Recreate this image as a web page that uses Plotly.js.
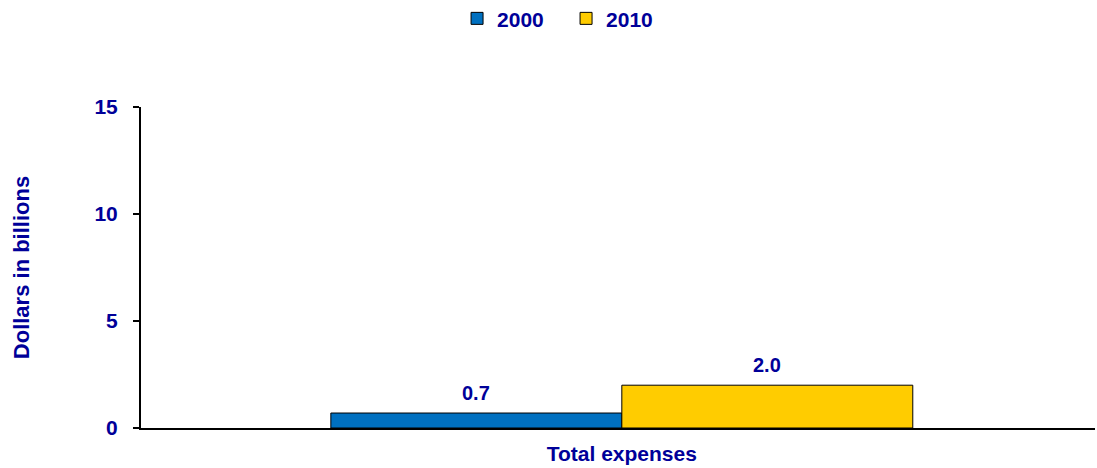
<!DOCTYPE html>
<html>
<head>
<meta charset="utf-8">
<script src="https://cdn.plot.ly/plotly-3.0.1.min.js"></script>
<style>html,body{margin:0;padding:0;background:#fff;}#chart{width:1097px;height:468px;}</style>
</head>
<body>
<div id="chart"></div>
<script>
const categories = ["Total expenses"];
const series2000 = [0.7];
const series2010 = [2.0];
const seriesNames = ["2000", "2010"];
const yTicks = [0, 5, 10, 15];

const textColor = "#000099";
const fontFam = "Liberation Sans, Arial, sans-serif";
const bold = (size) => ({family: fontFam, size: size, color: textColor, weight: "bold"});

const traces = [
  {type: "bar", name: seriesNames[0], x: categories, y: series2000,
   marker: {color: "#0070C0", line: {color: "#000", width: 1}}},
  {type: "bar", name: seriesNames[1], x: categories, y: series2010,
   marker: {color: "#FFCC00", line: {color: "#000", width: 1}}}
];

// value labels above each bar (offset half a bar width left/right of the category centre)
const annotations = [];
[series2000, series2010].forEach((s, i) => {
  s.forEach((v, j) => {
    annotations.push({x: categories[j], y: v, xref: "x", yref: "y", text: v.toFixed(1),
      showarrow: false, yanchor: "bottom", yshift: 7, xshift: (i === 0 ? -145.5 : 145.5),
      font: bold(20)});
  });
});

const layout = {
  width: 1097, height: 468,
  margin: {l: 141, r: 2, t: 107, b: 40},
  paper_bgcolor: "#fff", plot_bgcolor: "#fff",
  font: bold(21),
  barmode: "group", bargap: 0.39, bargroupgap: 0,
  showlegend: true,
  legend: {orientation: "h", xref: "container", yref: "container", x: 0.516, xanchor: "center",
    y: 0.96, yanchor: "middle", font: bold(21), itemwidth: 30, traceorder: "normal",
    entrywidth: 64, entrywidthmode: "pixels"},
  xaxis: {range: [-0.504, 0.496], showline: true, linecolor: "#000", linewidth: 2, ticks: "", showgrid: false,
    tickfont: bold(21), ticklabelstandoff: 6, automargin: false},
  yaxis: {range: [0, 15], tickvals: yTicks, showline: true, linecolor: "#000", linewidth: 2,
    ticks: "outside", ticklen: 6, tickcolor: "#000", tickwidth: 1.5, showgrid: false, zeroline: false,
    tickfont: bold(21), ticklabelstandoff: 11, automargin: false,
    title: {text: "Dollars in billions", standoff: 59, font: bold(22)}},
  annotations: annotations
};

Plotly.newPlot("chart", traces, layout, {displayModeBar: false, staticPlot: true});
</script>
</body>
</html>
